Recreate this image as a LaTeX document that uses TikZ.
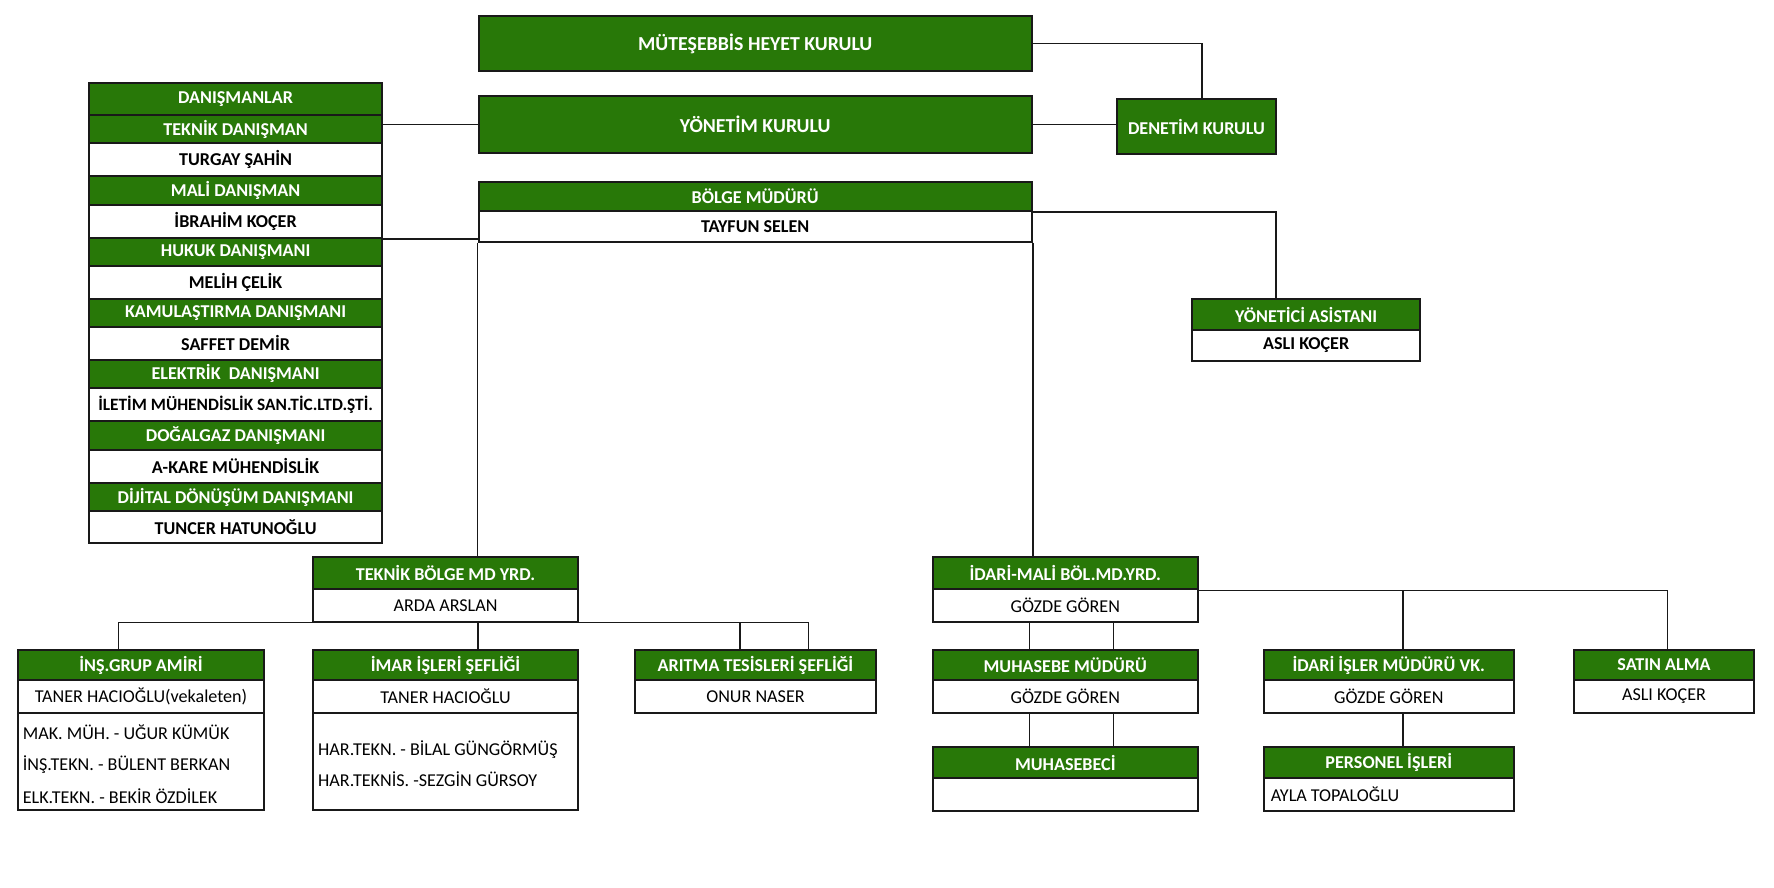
\documentclass[tikz,border=0pt]{standalone}
\usepackage{fontspec}
\setmainfont{Carlito}
\definecolor{hg}{RGB}{40,120,8}
\definecolor{lc}{RGB}{25,25,25}
\newcommand\fs{\fontsize{16}{19}\selectfont}
\newcommand\fbig{\fontsize{17.5}{21}\selectfont}
\newcommand\orgcell[7]{\node[#6, minimum width={(#4-#2)*1pt}, minimum height={(#5-#3)*1pt}] (#1) at ({(#2+#4)/2},{(#3+#5)/2}) {#7};}
\tikzset{
 box/.style={draw=lc, line width=1.8pt, inner sep=0pt},
 gbox/.style={box, fill=hg, text=white, font=\fs\bfseries},
 wbox/.style={box, fill=white, text=black, font=\fs\bfseries},
 rbox/.style={box, fill=white, text=black, font=\fs},
 big/.style={font=\fbig\bfseries},
 txt/.style={inner sep=0pt, anchor=west, font=\fs, text=black},
 link/.style={draw=lc, line width=1.3pt},
}
\begin{document}
\begin{tikzpicture}[x=1pt,y=-1pt]
\useasboundingbox[fill=white] (0,0) rectangle (1568,784);
% top
\orgcell{mhk}{423}{14}{912}{63}{gbox,big}{MÜTEŞEBBİS HEYET KURULU}
\orgcell{yk}{423}{85}{912}{135}{gbox,big}{YÖNETİM KURULU}
\orgcell{dk}{987.5}{87.5}{1127.5}{136.5}{gbox}{DENETİM KURULU}
\orgcell{bmh}{423}{161}{912}{186.5}{gbox}{BÖLGE MÜDÜRÜ}
\orgcell{bmn}{423}{186.5}{912}{213.5}{wbox}{TAYFUN SELEN}
\orgcell{yah}{1053.5}{264.3}{1255.5}{291.7}{gbox}{YÖNETİCİ ASİSTANI}
\orgcell{yan}{1053.5}{291.7}{1255.5}{318.8}{wbox}{ASLI KOÇER}
% advisers
\orgcell{dan}{79}{73.5}{337.5}{101.5}{gbox}{DANIŞMANLAR}
\orgcell{d1h}{79}{101.5}{337.5}{126.5}{gbox}{TEKNİK DANIŞMAN}
\orgcell{d1n}{79}{126.5}{337.5}{155.5}{wbox}{TURGAY ŞAHİN}
\orgcell{d2h}{79}{155.5}{337.5}{181}{gbox}{MALİ DANIŞMAN}
\orgcell{d2n}{79}{181}{337.5}{210.5}{wbox}{İBRAHİM KOÇER}
\orgcell{d3h}{79}{210.5}{337.5}{235}{gbox}{HUKUK DANIŞMANI}
\orgcell{d3n}{79}{235}{337.5}{264.5}{wbox}{MELİH ÇELİK}
\orgcell{d4h}{79}{264.5}{337.5}{289}{gbox}{KAMULAŞTIRMA DANIŞMANI}
\orgcell{d4n}{79}{289}{337.5}{318}{wbox}{SAFFET DEMİR}
\orgcell{d5h}{79}{318}{337.5}{343}{gbox}{ELEKTRİK~ DANIŞMANI}
\orgcell{d5n}{79}{343}{337.5}{372}{wbox,font=\fontsize{15.3}{18}\selectfont\bfseries}{İLETİM MÜHENDİSLİK SAN.TİC.LTD.ŞTİ.}
\orgcell{d6h}{79}{372}{337.5}{397.5}{gbox}{DOĞALGAZ DANIŞMANI}
\orgcell{d6n}{79}{397.5}{337.5}{427}{wbox}{A-KARE MÜHENDİSLİK}
\orgcell{d7h}{79}{427}{337.5}{451.5}{gbox}{DİJİTAL DÖNÜŞÜM DANIŞMANI}
\orgcell{d7n}{79}{451.5}{337.5}{480}{wbox}{TUNCER HATUNOĞLU}
% deputies
\orgcell{tbh}{276.4}{492.6}{511.2}{520.9}{gbox}{TEKNİK BÖLGE MD YRD.}
\orgcell{tbn}{276.4}{520.9}{511.2}{549.5}{rbox}{ARDA ARSLAN}
\orgcell{imh}{824.3}{492.6}{1058.9}{520.9}{gbox}{İDARİ-MALİ BÖL.MD.YRD.}
\orgcell{imn}{824.3}{520.9}{1058.9}{549.5}{rbox}{GÖZDE GÖREN}
% technical units
\orgcell{insh}{15.7}{574.5}{233.5}{601.2}{gbox}{İNŞ.GRUP AMİRİ}
\orgcell{insn}{15.7}{601.2}{233.5}{630}{rbox}{TANER HACIOĞLU(vekaleten)}
\orgcell{insl}{15.7}{630}{233.5}{716}{rbox}{}
\orgcell{imrh}{276.4}{574.5}{511.2}{601.2}{gbox}{İMAR İŞLERİ ŞEFLİĞİ}
\orgcell{imrn}{276.4}{601.2}{511.2}{630}{rbox}{TANER HACIOĞLU}
\orgcell{imrl}{276.4}{630}{511.2}{716}{rbox}{}
\orgcell{arh}{561}{574.5}{774.5}{601.2}{gbox}{ARITMA TESİSLERİ ŞEFLİĞİ}
\orgcell{arn}{561}{601.2}{774.5}{630}{rbox}{ONUR NASER}
\node[txt] (l1) at (20,647.6) {MAK. MÜH. - UĞUR KÜMÜK};
\node[txt] (l2) at (20,675.5) {İNŞ.TEKN. - BÜLENT BERKAN};
\node[txt] (l3) at (20,703.6) {ELK.TEKN. - BEKİR ÖZDİLEK};
\node[txt] (l4) at (281,662.3) {HAR.TEKN. - BİLAL GÜNGÖRMÜŞ};
\node[txt] (l5) at (281,688.8) {HAR.TEKNİS. -SEZGİN GÜRSOY};
% administrative units
\orgcell{muh}{824.3}{574.5}{1058.9}{601.2}{gbox}{MUHASEBE MÜDÜRÜ}
\orgcell{mun}{824.3}{601.2}{1058.9}{630}{rbox}{GÖZDE GÖREN}
\orgcell{mbh}{824.3}{660.5}{1058.9}{688}{gbox}{MUHASEBECİ}
\orgcell{mbn}{824.3}{688}{1058.9}{716.8}{rbox}{}
\orgcell{iih}{1117}{574.5}{1338}{601.2}{gbox}{İDARİ İŞLER MÜDÜRÜ VK.}
\orgcell{iin}{1117}{601.2}{1338}{630}{rbox}{GÖZDE GÖREN}
\orgcell{pih}{1117}{660.5}{1338}{688}{gbox}{PERSONEL İŞLERİ}
\orgcell{pin}{1117}{688}{1338}{716.8}{rbox}{}
\node[txt] (pit) at (1123,702.4) {AYLA TOPALOĞLU};
\orgcell{sah}{1391}{574.5}{1550.5}{601.2}{gbox}{SATIN ALMA}
\orgcell{san}{1391}{601.2}{1550.5}{630}{rbox}{ASLI KOÇER}
% connectors
\draw[link] (d1h.east |- yk.west) -- (yk.west);
\draw[link] (d2n.south east) -- (d2n.south east -| bmn.west);
\draw[link] (mhk.east) -| ([xshift=5pt]dk.north);
\draw[link] (yk.east) -- (yk.east -| dk.west);
\draw[link] (bmh.south east) -| ([xshift=-26.5pt]yah.north);
\draw[link] (bmn.south west) -- (bmn.south west |- tbh.north);
\draw[link] (bmn.south east) -- (bmn.south east |- imh.north);
\draw[link] ([xshift=-20pt]insh.north) |- (tbn.south) -| ([xshift=47pt]arh.north);
\draw[link] ([xshift=-13.75pt]arh.north) -- ([xshift=-13.75pt]arh.north |- tbn.south);
\draw[link] ([xshift=28.5pt]imrh.north) -- ([xshift=28.5pt]imrh.north |- tbn.south);
\draw[link] ([xshift=-31.5pt]muh.north) -- ([xshift=-31.5pt]muh.north |- imn.south);
\draw[link] ([xshift=42.5pt]muh.north) -- ([xshift=42.5pt]muh.north |- imn.south);
\draw[link] ([xshift=-31.5pt]mbh.north) -- ([xshift=-31.5pt]mbh.north |- mun.south);
\draw[link] ([xshift=42.5pt]mbh.north) -- ([xshift=42.5pt]mbh.north |- mun.south);
\draw[link] (imh.south east) -| ([xshift=3.25pt]sah.north);
\draw[link] ([xshift=12.5pt]iih.north) -- ([xshift=12.5pt]iih.north |- imh.south east);
\draw[link] ([xshift=12.5pt]pih.north) -- ([xshift=12.5pt]pih.north |- iin.south);
\end{tikzpicture}
\end{document}
